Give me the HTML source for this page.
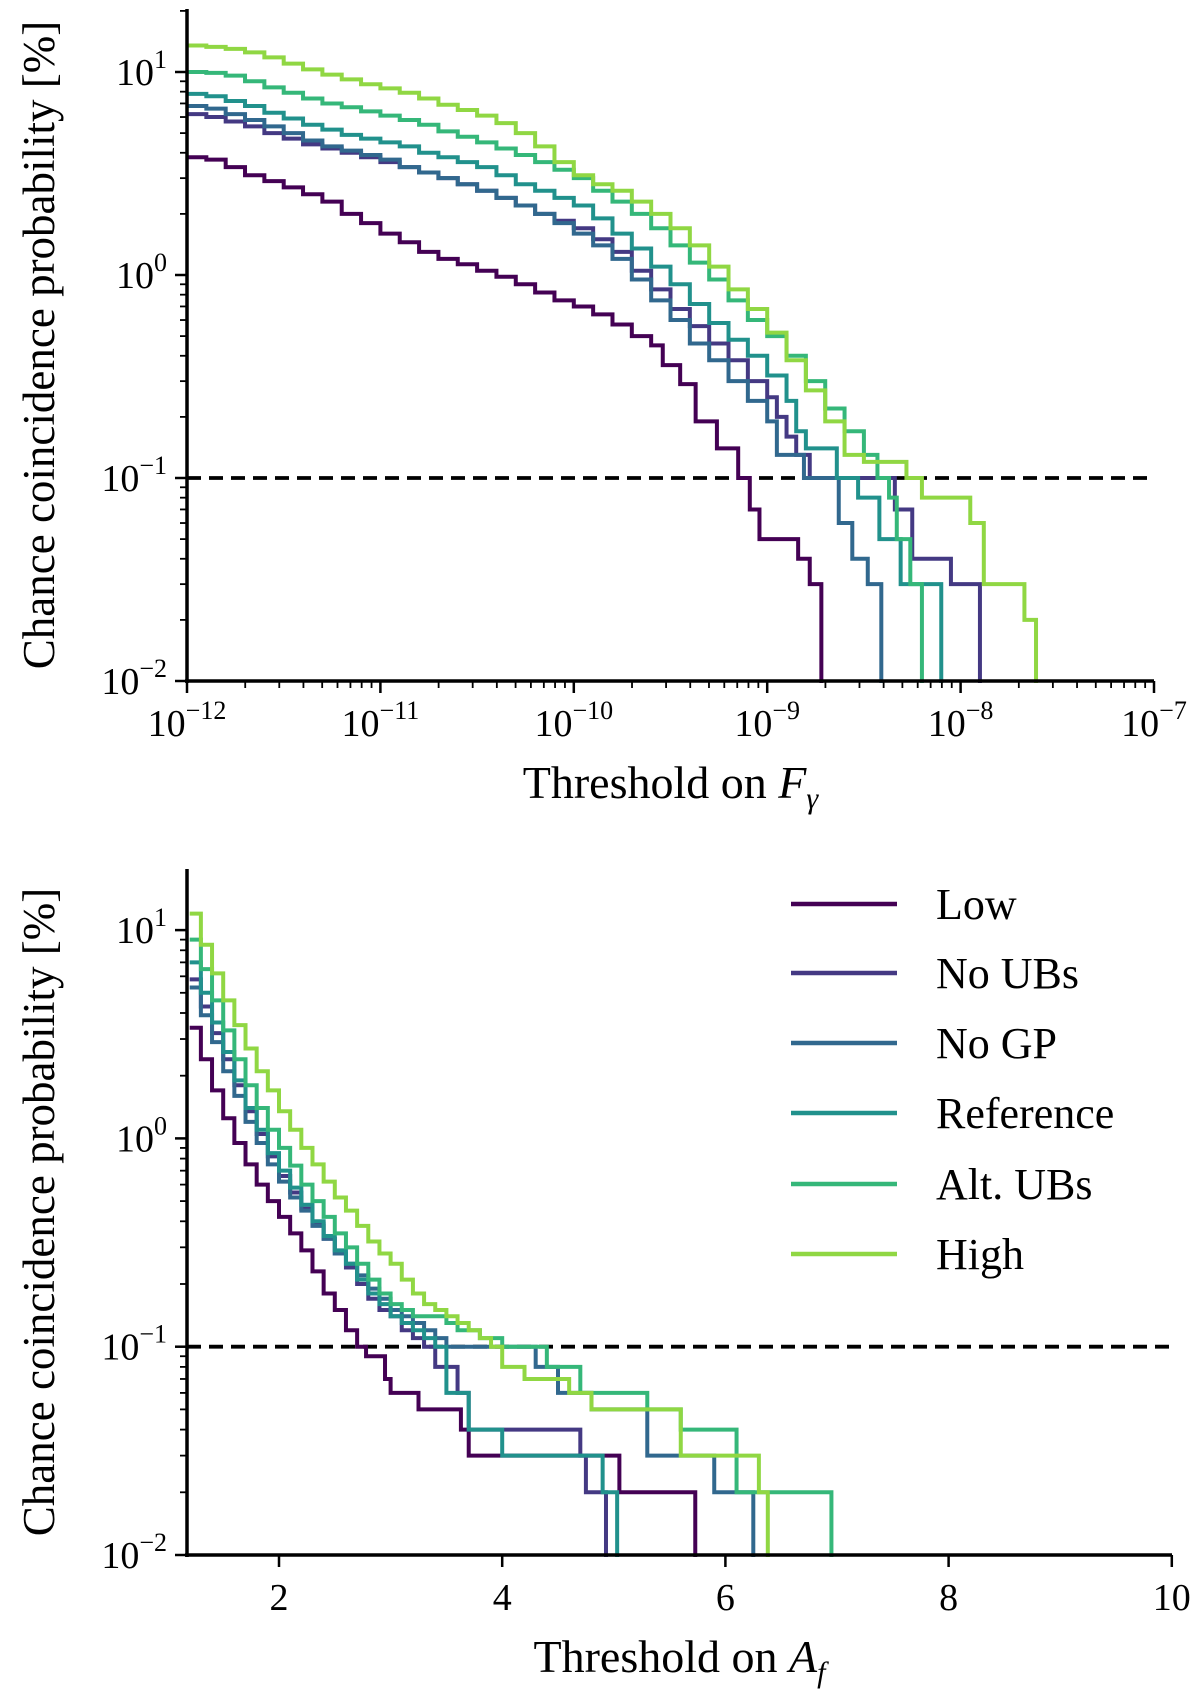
<!DOCTYPE html>
<html><head><meta charset="utf-8"><style>
html,body{margin:0;padding:0;background:#fff;}
svg{display:block;font-family:"Liberation Serif","DejaVu Serif",serif;}
</style></head><body>
<svg id="c" width="1200" height="1704" viewBox="0 0 1200 1704" xmlns="http://www.w3.org/2000/svg"></svg>
<script>
const seriesNames = ["Low","No UBs","No GP","Reference","Alt. UBs","High"];
const seriesColors = ["#440154","#443983","#31688e","#21918c","#35b779","#90d743"];
// Top panel: log10 thresholds on F_gamma and probability [%]
const topX = [
 [-12,-11.9,-11.8,-11.7,-11.6,-11.5,-11.4,-11.3,-11.2,-11.1,-11,-10.9,-10.8,-10.7,-10.6,-10.5,-10.4,-10.3,-10.2,-10.1,-10,-9.9,-9.8,-9.7,-9.6,-9.54,-9.45,-9.37,-9.26,-9.15,-9.09,-9.04,-8.84,-8.78,-8.72],
 [-12,-11.9,-11.8,-11.7,-11.6,-11.5,-11.4,-11.3,-11.2,-11.1,-11,-10.9,-10.8,-10.7,-10.6,-10.5,-10.4,-10.3,-10.2,-10.1,-10,-9.9,-9.8,-9.7,-9.6,-9.5,-9.4,-9.3,-9.2,-9.1,-9.0,-8.95,-8.9,-8.85,-8.78,-8.34,-8.25,-8.05,-7.9],
 [-12,-11.9,-11.8,-11.7,-11.6,-11.5,-11.4,-11.3,-11.2,-11.1,-11,-10.9,-10.8,-10.7,-10.6,-10.5,-10.4,-10.3,-10.2,-10.1,-10,-9.9,-9.8,-9.7,-9.6,-9.5,-9.4,-9.3,-9.2,-9.1,-9.0,-8.95,-8.81,-8.63,-8.56,-8.48,-8.41],
 [-12,-11.9,-11.8,-11.7,-11.6,-11.5,-11.4,-11.3,-11.2,-11.1,-11,-10.9,-10.8,-10.7,-10.6,-10.5,-10.4,-10.3,-10.2,-10.1,-10,-9.9,-9.8,-9.7,-9.6,-9.5,-9.4,-9.3,-9.2,-9.1,-9.0,-8.9,-8.85,-8.8,-8.64,-8.53,-8.42,-8.31,-8.22,-8.1],
 [-12,-11.9,-11.8,-11.7,-11.6,-11.5,-11.4,-11.3,-11.2,-11.1,-11,-10.9,-10.8,-10.7,-10.6,-10.5,-10.4,-10.3,-10.2,-10.1,-10,-9.9,-9.8,-9.7,-9.6,-9.5,-9.4,-9.3,-9.2,-9.1,-9.0,-8.9,-8.8,-8.7,-8.6,-8.5,-8.43,-8.37,-8.33,-8.26,-8.2],
 [-12,-11.9,-11.8,-11.7,-11.6,-11.5,-11.4,-11.3,-11.2,-11.1,-11,-10.9,-10.8,-10.7,-10.6,-10.5,-10.4,-10.3,-10.2,-10.1,-10,-9.9,-9.8,-9.7,-9.6,-9.5,-9.4,-9.3,-9.2,-9.1,-9.0,-8.9,-8.8,-8.7,-8.6,-8.5,-8.28,-8.2,-7.95,-7.88,-7.67,-7.61]
];
const topY = [
 [3.8,3.7,3.4,3.1,2.9,2.7,2.5,2.3,2.0,1.8,1.6,1.45,1.3,1.2,1.13,1.05,0.98,0.9,0.82,0.75,0.7,0.64,0.57,0.5,0.45,0.36,0.29,0.19,0.14,0.1,0.07,0.05,0.04,0.03,0.01],
 [6.2,6.0,5.7,5.4,5.0,4.7,4.4,4.2,4.0,3.8,3.6,3.4,3.2,3.0,2.8,2.6,2.4,2.2,2.0,1.85,1.7,1.5,1.3,1.05,0.85,0.68,0.56,0.46,0.38,0.3,0.25,0.2,0.16,0.13,0.1,0.07,0.04,0.03,0.01],
 [6.8,6.6,6.2,5.8,5.4,5.0,4.6,4.3,4.1,3.9,3.7,3.4,3.2,3.0,2.8,2.6,2.4,2.2,2.0,1.8,1.6,1.4,1.2,0.95,0.75,0.6,0.46,0.38,0.3,0.24,0.19,0.13,0.1,0.06,0.04,0.03,0.01],
 [7.8,7.6,7.2,6.8,6.3,5.9,5.5,5.2,4.9,4.7,4.5,4.3,4.0,3.8,3.6,3.4,3.1,2.8,2.6,2.4,2.2,1.9,1.6,1.35,1.1,0.9,0.72,0.58,0.48,0.4,0.32,0.24,0.17,0.14,0.1,0.08,0.05,0.03,0.03,0.01],
 [10,9.9,9.6,9.0,8.4,7.9,7.4,7.0,6.7,6.4,6.1,5.8,5.5,5.1,4.8,4.5,4.2,3.9,3.6,3.3,3.0,2.6,2.3,2.0,1.7,1.4,1.15,0.95,0.75,0.6,0.5,0.4,0.3,0.22,0.17,0.13,0.1,0.08,0.05,0.03,0.01],
 [13.5,13.3,13,12.5,11.8,11,10.3,9.7,9.2,8.7,8.3,7.9,7.4,6.9,6.5,6.1,5.6,5.0,4.3,3.6,3.1,2.8,2.6,2.3,2.0,1.7,1.4,1.1,0.85,0.68,0.52,0.38,0.27,0.19,0.13,0.12,0.1,0.08,0.06,0.03,0.02,0.01]
];
// Bottom panel: thresholds on A_f and probability [%]
const botX = [
 [1.2,1.3,1.4,1.5,1.6,1.7,1.8,1.9,2.0,2.1,2.2,2.3,2.4,2.5,2.6,2.7,2.78,2.95,3.0,3.25,3.63,3.7,5.05,5.73],
 [1.2,1.3,1.4,1.5,1.6,1.7,1.8,1.9,2.0,2.1,2.2,2.3,2.4,2.5,2.6,2.7,2.8,2.9,3.0,3.1,3.2,3.3,3.4,3.6,3.7,4.7,4.75,4.93],
 [1.2,1.3,1.4,1.5,1.6,1.7,1.8,1.9,2.0,2.1,2.2,2.3,2.4,2.5,2.6,2.7,2.8,2.9,3.0,3.1,3.2,3.3,3.4,3.5,3.6,4.3,4.5,4.8,5.3,5.9,6.25],
 [1.2,1.3,1.4,1.5,1.6,1.7,1.8,1.9,2.0,2.1,2.2,2.3,2.4,2.5,2.6,2.7,2.8,2.9,3.0,3.1,3.2,3.3,3.4,3.5,3.7,4.0,4.9,5.03],
 [1.2,1.3,1.4,1.5,1.6,1.7,1.8,1.9,2.0,2.1,2.2,2.3,2.4,2.5,2.6,2.7,2.8,2.9,3.0,3.1,3.2,3.3,3.4,3.5,3.6,3.7,3.8,3.9,4.0,4.1,4.2,4.4,4.7,5.3,5.6,6.1,6.95],
 [1.2,1.3,1.4,1.5,1.6,1.7,1.8,1.9,2.0,2.1,2.2,2.3,2.4,2.5,2.6,2.7,2.8,2.9,3.0,3.1,3.2,3.3,3.4,3.5,3.6,3.7,3.8,3.9,4.0,4.2,4.6,4.8,5.6,6.3,6.38]
];
const botY = [
 [3.4,2.4,1.7,1.25,0.95,0.75,0.6,0.5,0.42,0.35,0.29,0.23,0.18,0.15,0.12,0.1,0.09,0.07,0.06,0.05,0.04,0.03,0.02,0.01],
 [5.8,4.3,3.2,2.4,1.8,1.35,1.05,0.82,0.66,0.55,0.46,0.39,0.33,0.28,0.24,0.2,0.17,0.15,0.14,0.12,0.11,0.1,0.08,0.06,0.04,0.03,0.02,0.01],
 [5.3,3.9,2.9,2.1,1.6,1.2,0.95,0.75,0.62,0.52,0.45,0.38,0.33,0.28,0.25,0.22,0.19,0.17,0.15,0.14,0.13,0.12,0.11,0.1,0.1,0.08,0.06,0.05,0.03,0.02,0.01],
 [7.0,5.0,3.6,2.6,1.9,1.4,1.1,0.85,0.7,0.58,0.48,0.4,0.34,0.29,0.25,0.21,0.18,0.16,0.14,0.13,0.12,0.11,0.1,0.06,0.04,0.03,0.02,0.01],
 [9.0,6.5,4.6,3.3,2.4,1.8,1.4,1.1,0.9,0.74,0.6,0.5,0.42,0.35,0.3,0.25,0.21,0.18,0.16,0.15,0.14,0.14,0.14,0.13,0.12,0.12,0.11,0.11,0.1,0.1,0.1,0.08,0.06,0.05,0.04,0.02,0.01],
 [12,8.5,6.2,4.6,3.5,2.7,2.1,1.7,1.35,1.1,0.9,0.75,0.62,0.52,0.45,0.38,0.32,0.28,0.25,0.21,0.18,0.16,0.15,0.14,0.13,0.12,0.11,0.1,0.08,0.07,0.06,0.05,0.03,0.02,0.01]
];
const topXTicks = [-12,-11,-10,-9,-8,-7];
const botXTicks = [2,4,6,8,10];
const yTicks = [1,0,-1,-2];
const threshold = 0.1;

const NS="http://www.w3.org/2000/svg";
const svg=document.getElementById('c');
function el(tag,attrs,parent){const e=document.createElementNS(NS,tag);for(const k in attrs)e.setAttribute(k,attrs[k]);(parent||svg).appendChild(e);return e;}

function panel(P){
  const g=el('g',{});
  
  
  const yPix=v=>P.y0-(Math.log10(v)+2)*P.dec;
  const xPix=P.xf;
  const cid=P.name+'-clip';
  const cp=el('clipPath',{id:cid},g);el('rect',{x:P.left,y:P.top-20,width:P.right-P.left,height:P.y0-P.top+22},cp);
  const lg=el('g',{'clip-path':'url(#'+cid+')'},g);
  const th=el('line',{x1:P.left,x2:P.right,y1:yPix(threshold),y2:yPix(threshold),stroke:'#000','stroke-width':3.8,'stroke-dasharray':'14,8'},lg);
  
  
  for(let s=0;s<seriesNames.length;s++){
    const xs=P.xs[s],ys=P.ys[s];let d='';
    for(let i=0;i<xs.length;i++){
      const X=xPix(xs[i]),Y=ys[i]<=0.01?P.y0+5:yPix(ys[i]);
      if(i===0)d+='M'+X+','+Y;else{d+='H'+X+'V'+Y;}
    }
    const p=el('path',{d:d,fill:'none',stroke:seriesColors[s],'stroke-width':4,'stroke-linejoin':'miter'},lg);
    
    
  }
  el('line',{x1:P.left,x2:P.left,y1:P.top,y2:P.y0+2,stroke:'#000','stroke-width':3.5},g);
  el('line',{x1:P.left-2,x2:P.right,y1:P.y0,y2:P.y0,stroke:'#000','stroke-width':3.5},g);
  for(const t of yTicks){
    const Y=yPix(Math.pow(10,t));
    el('line',{x1:P.left-12,x2:P.left,y1:Y,y2:Y,stroke:'#000','stroke-width':2.5},g);
    const tx=el('text',{x:P.left-20,y:Y+13,'font-size':38,'text-anchor':'end'},g);
    tx.textContent='10';
    const sp=el('tspan',{'font-size':26,dy:-17},tx);sp.textContent=t<0?'\u2212'+(-t):String(t);
    
    
    if(t<1)for(let m=2;m<10;m++){const v=Math.pow(10,t)*m;const yy=yPix(v);if(yy<P.top)continue;
      el('line',{x1:P.left-7,x2:P.left,y1:yy,y2:yy,stroke:'#000','stroke-width':1.8},g);}
  }
  for(let m=2;m<10;m++){const yy=yPix(10*m);if(yy>=P.top)el('line',{x1:P.left-7,x2:P.left,y1:yy,y2:yy,stroke:'#000','stroke-width':1.8},g);}
  for(const t of P.xticks){
    const X=xPix(t);
    el('line',{x1:X,x2:X,y1:P.y0,y2:P.y0+12,stroke:'#000','stroke-width':2.5},g);
    const tx=el('text',{x:X,y:P.y0+55,'font-size':38,'text-anchor':'middle'},g);
    if(P.log){tx.textContent='10';const sp=el('tspan',{'font-size':26,dy:-17},tx);sp.textContent='\u2212'+(-t);}
    else tx.textContent=String(t);
    
    
    if(P.log&&t<-7)for(let m=2;m<10;m++){const xx=xPix(t+Math.log10(m));el('line',{x1:xx,x2:xx,y1:P.y0,y2:P.y0+7,stroke:'#000','stroke-width':1.8},g);}
  }
  const yl=el('text',{x:0,y:0,'font-size':45,'text-anchor':'middle',transform:'translate('+(P.left-133)+','+((P.top+P.y0)/2)+') rotate(-90)'},g);
  yl.textContent='Chance coincidence probability [%]';
  
  
  const xl=el('text',{x:(P.left+P.right)/2,y:P.y0+117,'font-size':46,'text-anchor':'middle'},g);
  xl.textContent='Threshold on ';
  const it=el('tspan',{'font-style':'italic'},xl);it.textContent=P.sym;
  const sb=el('tspan',{'font-style':'italic','font-size':30,dy:10},xl);sb.textContent=P.sub;
  
  
}
panel({name:'top-panel',left:187,right:1154,top:9,y0:681,dec:203,
  xf:v=>187+(v+12)*193.4,xs:topX,ys:topY,xticks:topXTicks,log:true,sym:'F',sub:'\u03b3'});
panel({name:'bottom-panel',left:187,right:1172,top:869,y0:1555,dec:208.3,
  xf:v=>279+(v-2)*111.6,xs:botX,ys:botY,xticks:botXTicks,log:false,sym:'A',sub:'f'});
const lg=el('g',{});


const rows=[904,973,1043,1113,1184,1254];
for(let s=0;s<seriesNames.length;s++){
  const e=el('g',{},lg);
  
  
  el('line',{x1:791,x2:897,y1:rows[s],y2:rows[s],stroke:seriesColors[s],'stroke-width':4.5},e);
  const t=el('text',{x:936,y:rows[s]+15,'font-size':44},e);t.textContent=seriesNames[s];
}
</script>
</body></html>
